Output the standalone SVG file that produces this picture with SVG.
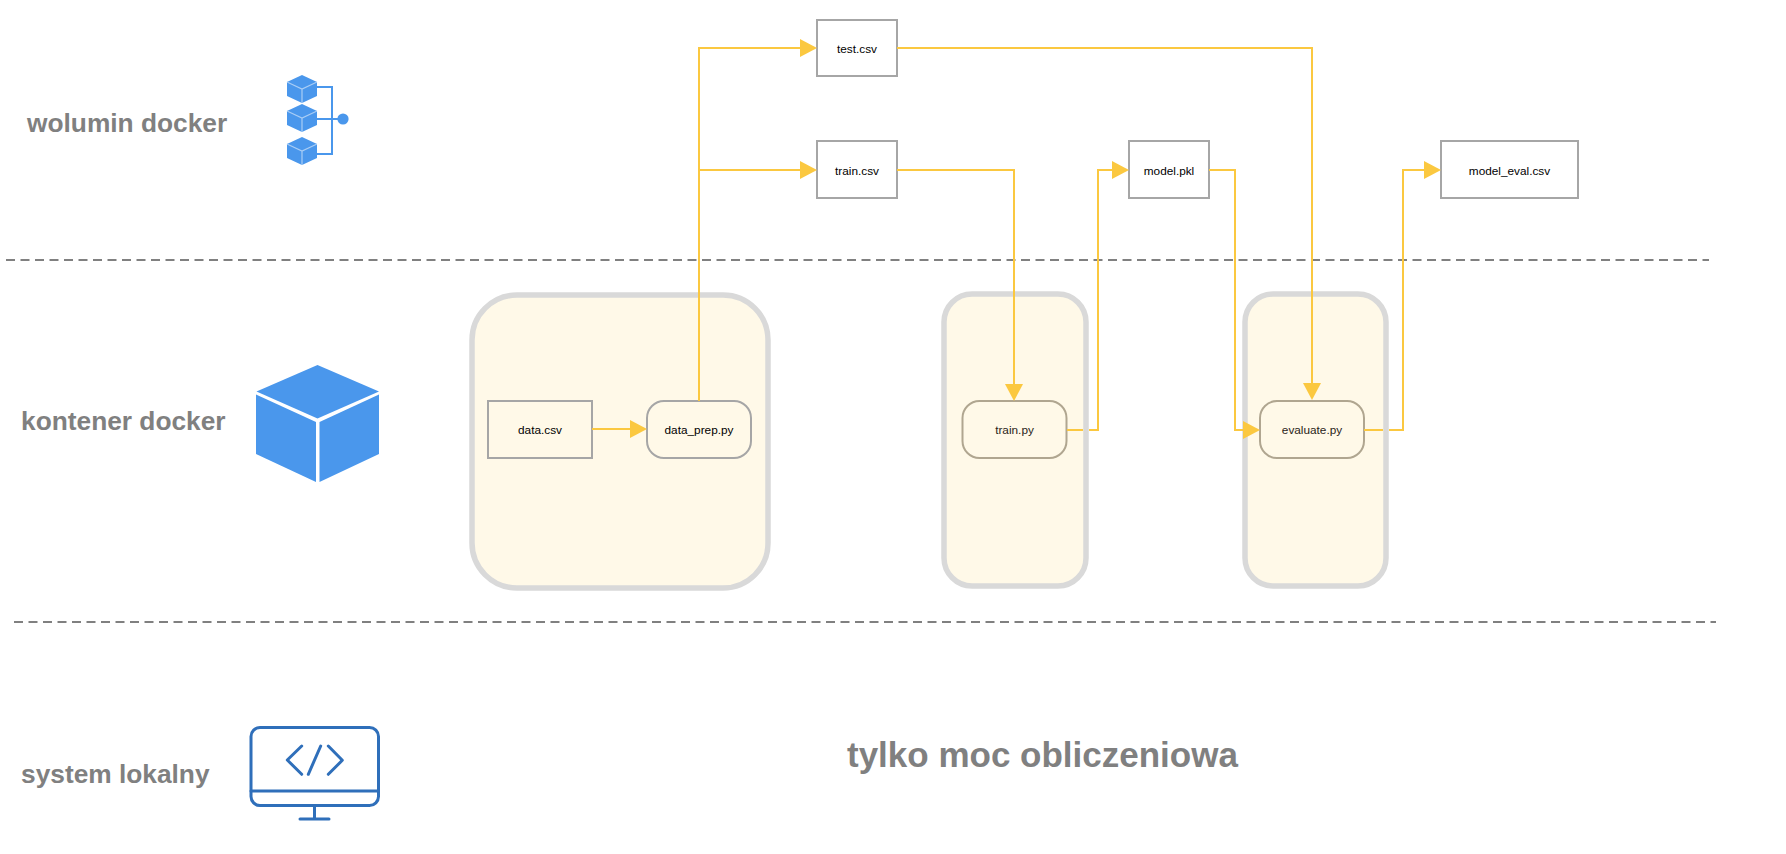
<svg xmlns="http://www.w3.org/2000/svg" width="1786" height="854" viewBox="0 0 1786 854">
  <style>
    text { font-family: "Liberation Sans", Arial, sans-serif; }
    .lane { font-weight: bold; font-size: 26.3px; fill: #808080; }
    .big { font-weight: bold; font-size: 35px; fill: #808080; }
    .lbl { font-size: 11.8px; fill: #000; text-anchor: middle; }
    .lblw { font-size: 11.8px; fill: #2a2418; text-anchor: middle; }
    .box { fill: none; stroke: #a6a6a6; stroke-width: 2; }
    .step { fill: #fff9e8; stroke: #a6a6a6; stroke-width: 2; }
    .stepw { fill: #fff9e8; stroke: #b0a690; stroke-width: 2; }
    .cont { fill: #fff9e8; stroke: #d9d9d9; stroke-width: 5.5; }
    .dash { fill: none; stroke: #808080; stroke-width: 2; stroke-dasharray: 9 5.5; }
    .conn { fill: none; stroke: #fbc840; stroke-width: 2; }
    .cube { fill: #4a97ec; }
    .cubeline { fill: none; stroke: #a9cdf5; stroke-width: 1.2; }
    .vol { fill: none; stroke: #4a97ec; stroke-width: 2; }
    .mon { fill: none; stroke: #2f6fba; stroke-width: 3; stroke-linecap: round; stroke-linejoin: round; }
  </style>
  <defs>
    <marker id="head" markerUnits="userSpaceOnUse" markerWidth="18" markerHeight="20" refX="0" refY="10" orient="auto">
      <path d="M0 1 L17 10 L0 19 Z" fill="#fbc840"/>
    </marker>
    <g id="smallcube">
      <path class="cube" d="M15 0 L30 7 V21 L15 28 L0 21 V7 Z"/>
      <path class="cubeline" d="M0 7 L15 14 L30 7 M15 14 V28"/>
    </g>
  </defs>

  <g id="separators">
    <line class="dash" x1="6" y1="260" x2="1709" y2="260"/>
    <line class="dash" x1="14" y1="622" x2="1716" y2="622"/>
  </g>

  <g id="lane-volume">
    <text class="lane" x="27" y="132">wolumin docker</text>
    <use href="#smallcube" x="287" y="75"/>
    <use href="#smallcube" x="287" y="104"/>
    <use href="#smallcube" x="287" y="137"/>
    <path class="vol" d="M317 87 H332 V154 H317 M317 119 H343"/>
    <circle cx="343" cy="119" r="5.6" fill="#4a97ec"/>
  </g>

  <g id="lane-container">
    <text class="lane" x="21" y="430">kontener docker</text>
    <path class="cube" d="M317.5 365 L379 391.5 L317.5 418.5 L256.5 391.5 Z"/>
    <path class="cube" d="M256 394.5 L316 422 V482 L256 454 Z"/>
    <path class="cube" d="M379 394.5 L319.500 422 V482 L379 454 Z"/>
  </g>

  <g id="lane-local">
    <text class="lane" x="21" y="783">system lokalny</text>
    <rect class="mon" x="251" y="727.5" width="127.5" height="78" rx="9"/>
    <path class="mon" d="M251 791 H378.500 M314.5 806 V819 M300 819 H329"/>
    <path class="mon" d="M301.7 746 L287.3 760 L301.7 774.3 M320.7 746 L308.3 774.3 M328.3 746 L342.3 760.3 L328.3 774.3"/>
  </g>

  <text id="caption" class="big" x="847" y="767">tylko moc obliczeniowa</text>

  <g id="container-1"><rect class="cont" x="472" y="295" width="296" height="293" rx="45"/></g>
  <g id="container-2"><rect class="cont" x="944" y="294" width="142" height="292" rx="28"/></g>
  <g id="container-3"><rect class="cont" x="1245" y="294" width="141" height="292" rx="28"/></g>

  <g id="node-data-csv"><rect class="box" x="488" y="401" width="104" height="57"/><text class="lbl" x="540" y="434">data.csv</text></g>
  <g id="node-data-prep"><rect class="step" x="647" y="401" width="104" height="57" rx="17"/><text class="lbl" x="699" y="434">data_prep.py</text></g>
  <g id="node-train-py"><rect class="stepw" x="962.5" y="401" width="104" height="57" rx="17"/><text class="lblw" x="1014.5" y="434">train.py</text></g>
  <g id="node-evaluate"><rect class="stepw" x="1260" y="401" width="104" height="57" rx="17"/><text class="lblw" x="1312" y="434">evaluate.py</text></g>
  <g id="node-test-csv"><rect class="box" x="817" y="20" width="80" height="56"/><text class="lbl" x="857" y="52.500">test.csv</text></g>
  <g id="node-train-csv"><rect class="box" x="817" y="141" width="80" height="57"/><text class="lbl" x="857" y="175">train.csv</text></g>
  <g id="node-model-pkl"><rect class="box" x="1129" y="141" width="80" height="57"/><text class="lbl" x="1169" y="175">model.pkl</text></g>
  <g id="node-model-eval"><rect class="box" x="1441" y="141" width="137" height="57"/><text class="lbl" x="1509.500" y="175">model_eval.csv</text></g>

  <g id="connectors">
    <path class="conn" d="M592 429 H630" marker-end="url(#head)"/>
    <path class="conn" d="M699 401 V48 H800" marker-end="url(#head)"/>
    <path class="conn" d="M699 170 H800" marker-end="url(#head)"/>
    <path class="conn" d="M897 170 H1014 V384" marker-end="url(#head)"/>
    <path class="conn" d="M897 48 H1312 V383" marker-end="url(#head)"/>
    <path class="conn" d="M1067 430 H1083 M1089 430 H1098 V170 H1112" marker-end="url(#head)"/>
    <path class="conn" d="M1209 170 H1235 V430 H1243" marker-end="url(#head)"/>
    <path class="conn" d="M1364 430 H1383 M1389 430 H1403 V170 H1424" marker-end="url(#head)"/>
  </g>
</svg>
